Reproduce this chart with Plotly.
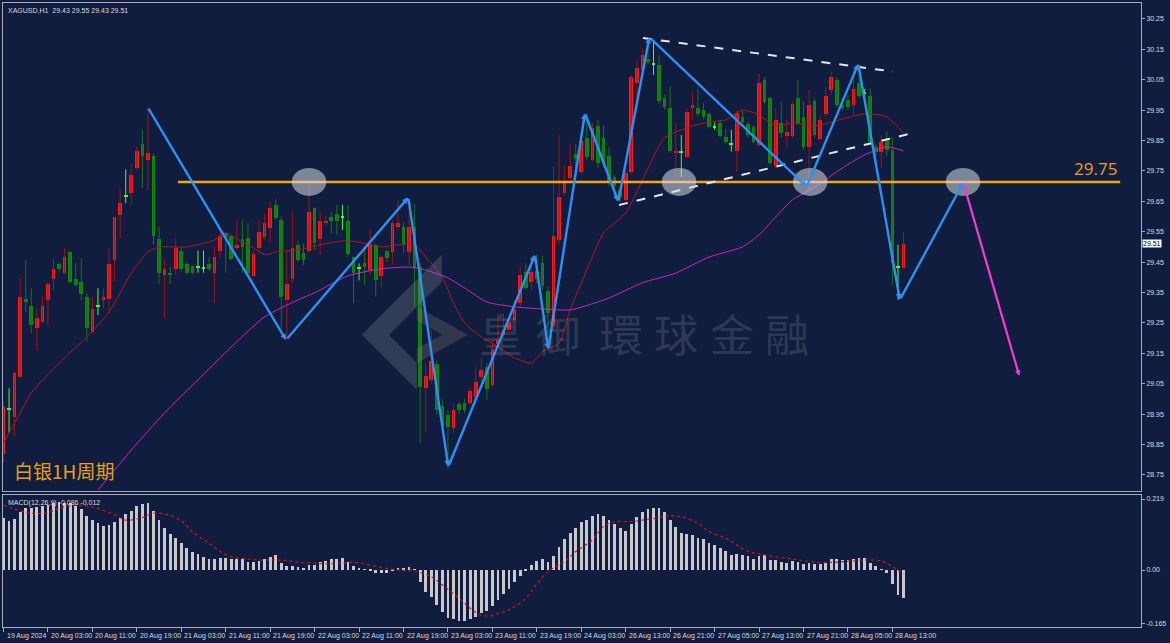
import plotly.graph_objects as go

# ---------------- data ----------------
opens = [28.82,28.97,28.94,29.073,29.33,29.306,29.232,29.254,29.326,29.394,
 29.444,29.415,29.485,29.394,29.384,29.334,29.221,29.31,29.326,29.328,
 29.457,29.605,29.67,29.676,29.759,29.838,29.786,29.799,29.525,29.408,
 29.415,29.426,29.488,29.444,29.437,29.435,29.43,29.444,29.415,29.488,
 29.545,29.536,29.496,29.525,29.528,29.405,29.496,29.534,29.561,29.638,
 29.589,29.326,29.394,29.506,29.479,29.488,29.627,29.525,29.578,29.60,
 29.608,29.60,29.587,29.466,29.43,29.446,29.424,29.506,29.404,29.488,
 29.485,29.565,29.567,29.485,29.567,29.435,29.035,29.062,29.115,28.977,
 28.947,28.903,28.984,28.986,28.986,29.008,29.071,29.104,29.046,29.181,
 29.21,29.227,29.26,29.315,29.416,29.386,29.42,29.446,29.356,29.238,
 29.523,29.676,29.726,29.806,29.745,29.857,29.786,29.898,29.857,29.80,
 29.73,29.688,29.655,29.745,30.038,30.082,30.12,30.102,30.10,29.99,
 29.958,29.808,29.812,29.797,29.956,29.956,29.949,29.937,29.896,29.909,
 29.861,29.84,29.817,29.929,29.906,29.896,29.835,30.05,29.989,29.766,
 29.909,29.865,29.865,29.989,29.929,29.828,29.98,29.854,29.937,30.016,
 30.049,29.967,29.983,29.967,30.04,30.01,29.997,29.83,29.814,29.858,
 29.819,29.437,29.43]
highs = [28.99,29.035,29.09,29.397,29.457,29.364,29.298,29.337,29.386,29.463,
 29.45,29.496,29.487,29.446,29.463,29.348,29.337,29.364,29.364,29.496,
 29.60,29.693,29.755,29.775,29.83,29.885,29.959,29.808,29.567,29.457,
 29.435,29.528,29.50,29.45,29.44,29.488,29.488,29.468,29.50,29.547,
 29.55,29.54,29.589,29.589,29.578,29.49,29.589,29.61,29.649,29.657,
 29.60,29.49,29.616,29.52,29.512,29.715,29.63,29.616,29.60,29.616,
 29.638,29.638,29.638,29.468,29.446,29.501,29.558,29.512,29.474,29.49,
 29.587,29.655,29.58,29.66,29.64,29.446,29.117,29.227,29.126,29.0,
 28.964,28.986,28.99,29.0,29.035,29.106,29.134,29.117,29.194,29.282,
 29.28,29.27,29.326,29.437,29.446,29.468,29.474,29.47,29.37,29.766,
 29.868,29.77,29.839,29.84,29.85,29.94,29.907,29.918,29.90,29.83,
 29.737,29.70,29.748,30.066,30.115,30.153,30.19,30.175,30.131,30.0,
 30.03,29.909,29.868,29.956,30.01,30.02,29.973,29.942,29.909,29.918,
 29.89,29.885,29.95,29.95,29.912,29.90,30.07,30.06,29.995,29.956,
 29.978,29.918,29.978,30.05,29.978,30.016,29.989,29.93,30.027,30.077,
 30.06,29.99,30.0,30.082,30.102,30.02,30.022,29.84,29.868,29.88,
 29.86,29.507,29.55]
lows = [28.79,28.89,28.876,29.07,29.287,29.216,29.161,29.25,29.243,29.358,
 29.42,29.41,29.38,29.37,29.325,29.188,29.215,29.276,29.30,29.282,
 29.386,29.528,29.644,29.638,29.75,29.693,29.687,29.507,29.378,29.265,
 29.378,29.408,29.42,29.41,29.41,29.415,29.415,29.42,29.315,29.466,
 29.415,29.456,29.49,29.415,29.41,29.40,29.479,29.523,29.512,29.589,
 29.232,29.194,29.38,29.45,29.44,29.479,29.49,29.474,29.57,29.545,
 29.54,29.556,29.468,29.315,29.39,29.375,29.408,29.337,29.369,29.45,
 29.444,29.555,29.479,29.44,29.30,28.854,28.892,29.05,28.95,28.90,
 28.772,28.887,28.95,28.953,28.98,29.0,29.05,28.997,29.04,29.17,
 29.2,29.22,29.254,29.304,29.36,29.36,29.38,29.36,29.161,29.227,
 29.51,29.67,29.72,29.73,29.74,29.786,29.78,29.76,29.764,29.70,
 29.665,29.649,29.65,29.74,29.98,30.07,30.10,30.066,29.97,29.95,
 29.81,29.73,29.73,29.79,29.918,29.93,29.92,29.89,29.885,29.86,
 29.84,29.814,29.748,29.90,29.86,29.84,29.83,29.97,29.77,29.76,
 29.86,29.83,29.86,29.90,29.82,29.687,29.86,29.85,29.93,30.0,
 29.96,29.95,29.95,29.934,29.99,29.99,29.835,29.80,29.759,29.80,
 29.375,29.326,29.43]
closes = [28.975,28.965,29.085,29.337,29.32,29.243,29.265,29.306,29.378,29.426,
 29.426,29.466,29.386,29.375,29.345,29.232,29.296,29.305,29.337,29.444,
 29.60,29.646,29.665,29.737,29.817,29.799,29.808,29.536,29.415,29.426,
 29.408,29.496,29.426,29.415,29.415,29.432,29.428,29.426,29.466,29.536,
 29.533,29.459,29.506,29.50,29.415,29.477,29.55,29.58,29.627,29.594,
 29.334,29.378,29.496,29.456,29.457,29.616,29.514,29.587,29.587,29.587,
 29.587,29.598,29.477,29.413,29.428,29.435,29.51,29.391,29.468,29.463,
 29.58,29.58,29.506,29.567,29.43,29.04,29.076,29.126,28.964,28.911,
 28.909,28.964,28.962,28.962,29.027,29.057,29.095,29.032,29.163,29.194,
 29.227,29.254,29.295,29.408,29.364,29.416,29.395,29.37,29.282,29.536,
 29.665,29.711,29.766,29.79,29.847,29.797,29.89,29.777,29.775,29.71,
 29.70,29.666,29.742,30.06,30.088,30.132,30.11,30.10,29.98,29.96,
 29.817,29.816,29.81,29.945,29.967,29.936,29.926,29.896,29.893,29.865,
 29.846,29.838,29.94,29.912,29.868,29.846,30.038,29.978,29.777,29.918,
 29.874,29.879,29.97,29.909,29.83,29.967,29.868,29.918,29.997,30.058,
 29.967,29.956,29.96,30.019,29.997,30.006,29.846,29.814,29.846,29.82,
 29.446,29.432,29.51]
bar_index = list(range(len(closes)))

# moving averages
ma_red_x = [0,3,5,10,15,19,23,26,28,33,38,40,43,45,47,49,53,57,61,64,68,71,74,76,79,81,83,86,89,92,95,97,100,102,105,108,112,115,119,124,127,130,133,136,139,142,146,151,155,159,162]
ma_red_y = [28.855,28.954,29.02,29.118,29.204,29.286,29.414,29.484,29.5,29.5,29.523,29.546,29.516,29.497,29.474,29.484,29.49,29.507,29.52,29.516,29.5,29.507,29.507,29.467,29.401,29.316,29.25,29.204,29.171,29.135,29.118,29.155,29.184,29.293,29.424,29.546,29.612,29.72,29.859,29.898,29.911,29.918,29.951,29.934,29.898,29.908,29.898,29.921,29.938,29.928,29.875]
ma_mag_x = [17,23,29,35,41,47,53,56,62,68,73,76,80,83,87,92,97,102,106,109,115,121,127,133,136,139,142,146,151,155,159,162]
ma_mag_y = [28.70,28.832,28.954,29.063,29.171,29.27,29.326,29.349,29.405,29.428,29.434,29.424,29.398,29.365,29.319,29.303,29.296,29.293,29.313,29.332,29.382,29.414,29.467,29.5,29.54,29.599,29.655,29.697,29.76,29.803,29.829,29.816]

# MACD histogram (one value per bar) and signal line samples
macd_hist = [0.159,0.151,0.156,0.178,0.190,0.192,0.193,0.197,0.200,0.208,
 0.211,0.206,0.208,0.197,0.187,0.167,0.154,0.144,0.136,0.138,
 0.149,0.159,0.172,0.182,0.197,0.204,0.208,0.183,0.154,0.131,
 0.110,0.098,0.082,0.069,0.057,0.049,0.041,0.034,0.033,0.037,
 0.037,0.035,0.035,0.034,0.026,0.024,0.029,0.033,0.041,0.045,
 0.023,0.013,0.012,0.008,0.006,0.016,0.016,0.024,0.029,0.033,
 0.034,0.037,0.026,0.012,0.005,0.001,-0.002,-0.008,-0.010,-0.010,
 -0.003,0.005,0.005,0.008,0.003,-0.038,-0.067,-0.082,-0.108,-0.129,
 -0.147,-0.151,-0.156,-0.157,-0.151,-0.144,-0.134,-0.126,-0.110,-0.093,
 -0.075,-0.059,-0.038,-0.017,-0.001,0.015,0.028,0.033,0.026,0.044,
 0.070,0.095,0.115,0.129,0.147,0.154,0.167,0.172,0.167,0.154,
 0.141,0.129,0.121,0.142,0.162,0.178,0.187,0.190,0.190,0.178,
 0.154,0.132,0.113,0.110,0.107,0.100,0.095,0.084,0.077,0.067,
 0.059,0.046,0.048,0.046,0.042,0.034,0.044,0.046,0.031,0.030,
 0.025,0.023,0.028,0.025,0.019,0.023,0.017,0.017,0.023,0.034,
 0.034,0.032,0.032,0.034,0.037,0.037,0.023,0.012,0.003,-0.008,
 -0.044,-0.077,-0.086]
signal_x = [0,3,5,8,10,13,15,17,20,22,25,27,29,32,34,37,39,41,44,46,49,51,53,56,58,61,63,65,68,70,72,74,77,79,82,84,86,88,89,91,94,96,98,101,103,106,108,110,113,115,118,120,122,125,127,130,132,134,136,138,141,143,146,148,150,153,155,158,159,160,162]
signal_y = [0.200,0.183,0.175,0.177,0.190,0.200,0.198,0.190,0.170,0.154,0.162,0.175,0.173,0.152,0.118,0.082,0.057,0.041,0.034,0.031,0.031,0.029,0.024,0.021,0.019,0.021,0.024,0.019,0.008,0.002,-0.001,-0.003,-0.021,-0.046,-0.087,-0.118,-0.139,-0.141,-0.134,-0.123,-0.087,-0.044,-0.005,0.026,0.057,0.093,0.134,0.149,0.149,0.154,0.161,0.167,0.164,0.144,0.118,0.098,0.077,0.057,0.050,0.043,0.036,0.031,0.024,0.023,0.024,0.028,0.031,0.028,0.021,0.010,-0.012]

# x-axis tick labels (every 8 bars)
tick_bars = list(range(0, 161, 8))
tick_labels = ["19 Aug 2024","20 Aug 03:00","20 Aug 11:00","20 Aug 19:00","21 Aug 03:00",
 "21 Aug 11:00","21 Aug 19:00","22 Aug 03:00","22 Aug 11:00","22 Aug 19:00","23 Aug 03:00",
 "23 Aug 11:00","23 Aug 19:00","24 Aug 03:00","26 Aug 13:00","26 Aug 21:00","27 Aug 05:00",
 "27 Aug 13:00","27 Aug 21:00","28 Aug 05:00","28 Aug 13:00"]
price_ticks = [28.75,28.85,28.95,29.05,29.15,29.25,29.35,29.45,29.55,29.65,29.75,29.85,29.95,30.05,30.15,30.25]
macd_ticks = [0.219, 0.0, -0.165]
macd_tick_text = ["0.219", "0.00", "-0.165"]

# drawn analysis objects (bar index, price)
zigzag_x = [25.95,50.85,72.86,80.06,95.66,98.06,104.66,110.66,116.24,144.57,153.85,161.33,172.75]
zigzag_y = [29.96,29.194,29.663,28.777,29.474,29.163,29.94,29.649,30.19,29.698,30.102,29.326,29.712]
proj_x = [172.75, 182.83]
proj_y = [29.712, 29.076]
level_price = 29.714
level_label = "29.75"
level_x = [31.4, 201.0]
circle_x = [55.0, 121.6, 145.2, 172.7]
upper_x = [115.1, 160.1]; upper_y = [30.1875, 30.077]
lower_x = [110.8, 163.5]; lower_y = [29.638, 29.874]
last_price = 29.51

# ---------------- styling ----------------
BG = "#111d3e"
FRAME = "#a8acb4"
TXT = "#dcdcdc"
FONT = "Liberation Sans"

fig = go.Figure()

# candles
up = [i for i in bar_index if closes[i] - opens[i] >= 0.006]
dn = [i for i in bar_index if opens[i] - closes[i] >= 0.006]
dj = [i for i in bar_index if abs(closes[i] - opens[i]) < 0.006]

def wicks(idx):
    xs, ys = [], []
    for i in idx:
        xs += [i, i, None]
        ys += [lows[i], highs[i], None]
    return xs, ys

for idx, wc, bc in [(up, "#a01414", "#ff1a1a"), (dn, "#1d6e1d", "#0b8a0b"), (dj, "#3cff3c", "#3cff3c")]:
    wx, wy = wicks(idx)
    fig.add_trace(go.Scatter(x=wx, y=wy, mode="lines", line=dict(color=wc, width=1),
                             hoverinfo="skip", xaxis="x", yaxis="y"))
    fig.add_trace(go.Bar(x=idx, y=[max(abs(closes[i] - opens[i]), 0.004) for i in idx],
                         base=[min(opens[i], closes[i]) for i in idx], width=0.66,
                         marker=dict(color=bc, line=dict(width=0)), xaxis="x", yaxis="y"))

# moving averages
fig.add_trace(go.Scatter(x=ma_red_x, y=ma_red_y, mode="lines", line=dict(color="#b3161e", width=1, shape="spline", smoothing=0.6)))
fig.add_trace(go.Scatter(x=ma_mag_x, y=ma_mag_y, mode="lines", line=dict(color="#c626c6", width=1, shape="spline", smoothing=0.6)))

# level line
fig.add_trace(go.Scatter(x=level_x, y=[level_price] * 2, mode="lines", line=dict(color="#f2a614", width=2.5)))
# triangle dashed lines
fig.add_trace(go.Scatter(x=upper_x, y=upper_y, mode="lines", line=dict(color="#e6e6ea", width=2, dash="dash")))
fig.add_trace(go.Scatter(x=lower_x, y=lower_y, mode="lines", line=dict(color="#e6e6ea", width=2, dash="dash")))

# MACD
fig.add_trace(go.Bar(x=bar_index, y=macd_hist, width=0.5, marker=dict(color="#c9c9cc", line=dict(width=0)),
                     xaxis="x2", yaxis="y2"))
fig.add_trace(go.Scatter(x=signal_x, y=signal_y, mode="lines", line=dict(color="#d0141c", width=1.2, dash="dot", shape="spline"),
                         xaxis="x2", yaxis="y2"))

shapes = []
# highlight ellipses
for cx in circle_x:
    shapes.append(dict(type="circle", xref="x", yref="y", x0=cx - 3.1, x1=cx + 3.1,
                       y0=level_price - 0.046, y1=level_price + 0.046,
                       fillcolor="rgba(215,218,228,0.55)", line=dict(width=0), layer="above"))
# watermark logo
shapes.append(dict(type="path", xref="x", yref="y", layer="above",
                   path="M78.9,29.474 L78.9,29.385 L69.4,29.211 L74.4,29.118 L74.4,29.030 L64.5,29.211 Z",
                   fillcolor="rgba(150,150,160,0.26)", line=dict(width=0)))
shapes.append(dict(type="path", xref="x", yref="y", layer="above",
                   path="M74.4,29.303 L83.6,29.211 L74.4,29.118 L74.4,29.165 L79.0,29.211 L74.4,29.258 Z",
                   fillcolor="rgba(150,130,110,0.26)", line=dict(width=0)))

ann = []
# zigzag arrows
for k in range(1, len(zigzag_x)):
    ann.append(dict(x=zigzag_x[k], y=zigzag_y[k], ax=zigzag_x[k - 1], ay=zigzag_y[k - 1],
                    xref="x", yref="y", axref="x", ayref="y", showarrow=True, text="",
                    arrowcolor="#2e90f2", arrowwidth=2.4, arrowhead=2, arrowsize=0.5, standoff=0))
ann.append(dict(x=proj_x[1], y=proj_y[1], ax=proj_x[0], ay=proj_y[0], xref="x", yref="y",
                axref="x", ayref="y", showarrow=True, text="", arrowcolor="#f53cd2",
                arrowwidth=2.2, arrowhead=2, arrowsize=0.5, standoff=0))
# watermark text
for ch, cx in zip("皇御環球金融", [89.5, 99.8, 111.1, 121.0, 131.1, 141.0]):
    ann.append(dict(x=cx, y=29.217, xref="x", yref="y", text=ch, showarrow=False,
                    font=dict(family="Noto Sans CJK TC", size=44, color="rgba(150,150,160,0.24)")))
# labels
ann.append(dict(x=196.5, y=29.757, xref="x", yref="y", text=level_label, showarrow=False,
                font=dict(family="Open Sans", size=17, color="#e6a01e")))
ann.append(dict(x=1.5, y=28.763, xref="x", yref="y", text="白银1H周期", showarrow=False, xanchor="left",
                font=dict(family="Noto Sans CJK SC", size=19, color="#e6a01e")))
ann.append(dict(x=0, y=1, xref="paper", yref="paper", xanchor="left", yanchor="top", xshift=3, yshift=-2,
                text="XAGUSD,H1  29.43 29.55 29.43 29.51", showarrow=False,
                font=dict(family=FONT, size=7, color=TXT)))
ann.append(dict(x=0, y=0.2115, xref="paper", yref="paper", xanchor="left", yanchor="top", xshift=3, yshift=-2,
                text="MACD(12,26,9) -0.086 -0.012", showarrow=False,
                font=dict(family=FONT, size=7, color=TXT)))
ann.append(dict(x=1, y=last_price, xref="paper", yref="y", xanchor="left", xshift=1, text=f"{last_price:.2f}",
                showarrow=False, bgcolor="#ffffff", borderpad=0,
                font=dict(family=FONT, size=7, color="#000000")))
for tb, tl in zip(tick_bars, tick_labels):
    ann.append(dict(x=tb, y=0, xref="x2", yref="paper", xanchor="left", yanchor="top", yshift=-3, xshift=1,
                    text=tl, showarrow=False, font=dict(family=FONT, size=7, color=TXT)))

xr = [-0.09, 204.74]
axis_common = dict(showgrid=False, zeroline=False, showline=True, mirror=True, linecolor=FRAME, linewidth=1,
                   automargin=False)
fig.update_layout(
    template="none", width=1170, height=643, margin=dict(l=3, r=29, t=3, b=16),
    paper_bgcolor=BG, plot_bgcolor=BG, showlegend=False, barmode="overlay", bargap=0,
    xaxis=dict(domain=[0, 1], range=xr, anchor="y", showticklabels=False, ticks="", **axis_common),
    yaxis=dict(domain=[0.2179, 1], range=[28.697, 30.3026], side="right", anchor="x",
               tickvals=price_ticks, ticktext=[f"{v:.2f}" for v in price_ticks],
               ticks="outside", ticklen=3, tickcolor=FRAME,
               tickfont=dict(family=FONT, size=7, color=TXT), **axis_common),
    xaxis2=dict(domain=[0, 1], range=xr, anchor="y2", tickvals=tick_bars, showticklabels=False,
                ticks="outside", ticklen=4, tickcolor=FRAME, **axis_common),
    yaxis2=dict(domain=[0, 0.2115], range=[-0.1758, 0.2313], side="right", anchor="x2",
                tickvals=macd_ticks, ticktext=macd_tick_text, ticks="outside", ticklen=3, tickcolor=FRAME,
                tickfont=dict(family=FONT, size=7, color=TXT), **axis_common),
    shapes=shapes, annotations=ann,
)

fig.write_html("out.html")
